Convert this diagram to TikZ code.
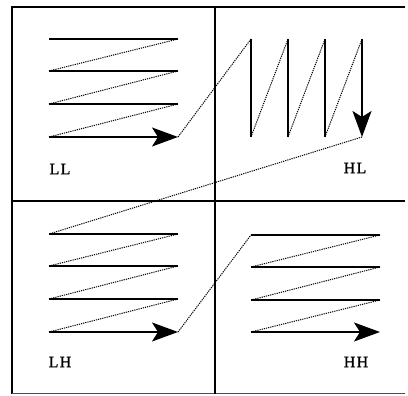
\documentclass[tikz,border=0pt]{standalone}
\usepackage{fontspec}
\setmainfont{Liberation Serif}
\usepackage{tikz}
\usetikzlibrary{arrows.meta}

\tikzset{
  scanline/.style={line width=1.4pt},
  lastline/.style={scanline, -{Stealth[length=26pt,width=19pt,inset=6pt]}},
  zigzag/.style={line width=1pt, dash pattern=on 1.2pt off 1pt},
  bandlabel/.style={font=\fontsize{16}{19}\selectfont\addfontfeature{LetterSpace=8,FakeBold=1.2}, inner sep=0pt}
}

\begin{document}
\begin{tikzpicture}[x=1pt,y=-1pt]
\useasboundingbox (0,0) rectangle (408,396);

% Frame
\draw[line width=1.3pt] (405,7) -- (12,7) -- (12,394);
\draw[line width=1pt, black!70] (12,394) -- (405,394);
\draw[line width=1.3pt] (215,7) -- (215,394);
\draw[line width=1.3pt] (12,201) -- (405,201);

% Scan points
\foreach \i/\y in {1/39,2/71,3/104,4/137} {
  \coordinate (LLa\i) at (49,\y);
  \coordinate (LLb\i) at (178,\y);
}
\foreach \i/\x in {1/251,2/288,3/325,4/362} {
  \coordinate (HLa\i) at (\x,39);
  \coordinate (HLb\i) at (\x,137);
}
\foreach \i/\y in {1/234,2/266,3/299,4/332} {
  \coordinate (LHa\i) at (49,\y);
  \coordinate (LHb\i) at (178,\y);
}
\foreach \i/\y in {1/235,2/267,3/300,4/332} {
  \coordinate (HHa\i) at (251,\y);
  \coordinate (HHb\i) at (380,\y);
}

% LL
\foreach \i in {1,2,3} \draw[scanline] (LLa\i) -- (LLb\i);
\draw[lastline] (LLa4) -- (LLb4);
\foreach \i/\j in {1/2,2/3,3/4} \draw[zigzag] (LLa\j) -- (LLb\i);

% HL
\foreach \i in {1,2,3} \draw[scanline] (HLa\i) -- (HLb\i);
\draw[lastline] (HLa4) -- (HLb4);
\foreach \i/\j in {1/2,2/3,3/4} \draw[zigzag] (HLb\i) -- (HLa\j);

% LH
\foreach \i in {1,2,3} \draw[scanline] (LHa\i) -- (LHb\i);
\draw[lastline] (LHa4) -- (LHb4);
\foreach \i/\j in {1/2,2/3,3/4} \draw[zigzag] (LHa\j) -- (LHb\i);

% HH
\foreach \i in {1,2,3} \draw[scanline] (HHa\i) -- (HHb\i);
\draw[lastline] (HHa4) -- (HHb4);
\foreach \i/\j in {1/2,2/3,3/4} \draw[zigzag] (HHa\j) -- (HHb\i);

% Jumps between subbands
\draw[zigzag] (LLb4) -- (HLa1);
\draw[zigzag] (HLb4) -- (LHa1);
\draw[zigzag] (LHb4) -- (HHa1);

% Labels
\node[bandlabel] (ll) at (60,169) {LL};
\node[bandlabel] (hl) at (355,168) {HL};
\node[bandlabel] (lh) at (60,362) {LH};
\node[bandlabel] (hh) at (356,362) {HH};

\end{tikzpicture}
\end{document}
